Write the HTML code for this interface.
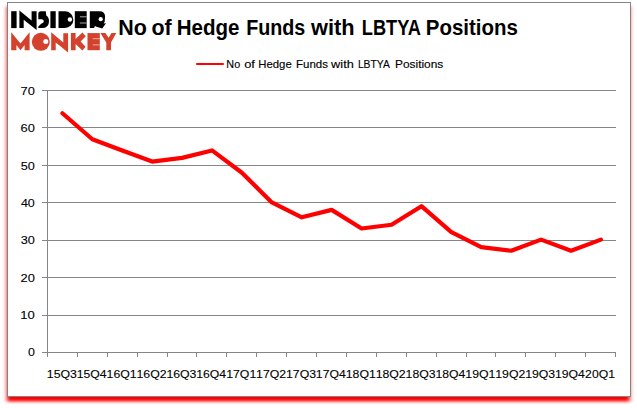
<!DOCTYPE html>
<html><head><meta charset="utf-8"><style>
html,body{margin:0;padding:0;background:#fff;width:637px;height:408px;overflow:hidden}
svg{position:absolute;left:0;top:0}
text{font-family:"Liberation Sans",sans-serif;fill:#000}
.ax{font-size:11.6px;stroke:#000;stroke-width:0.1px}
.lg{font-size:11.6px;stroke:#000;stroke-width:0.15px}
.tt{font-size:21.8px;font-weight:bold}
</style></head><body>
<svg width="637" height="408" viewBox="0 0 637 408">
<defs><filter id="sh" x="-5%" y="-5%" width="110%" height="110%"><feGaussianBlur stdDeviation="2 1.5"/></filter></defs>
<rect x="7" y="6.5" width="622.8" height="395" fill="#ff0000" filter="url(#sh)"/>
<rect x="7.5" y="2.5" width="623" height="394" fill="#fff" stroke="#848484" stroke-width="1"/>
<line x1="42" y1="90.5" x2="616" y2="90.5" stroke="#868686" stroke-width="1"/>
<line x1="42" y1="127.5" x2="616" y2="127.5" stroke="#868686" stroke-width="1"/>
<line x1="42" y1="165.5" x2="616" y2="165.5" stroke="#868686" stroke-width="1"/>
<line x1="42" y1="202.5" x2="616" y2="202.5" stroke="#868686" stroke-width="1"/>
<line x1="42" y1="240.5" x2="616" y2="240.5" stroke="#868686" stroke-width="1"/>
<line x1="42" y1="277.5" x2="616" y2="277.5" stroke="#868686" stroke-width="1"/>
<line x1="42" y1="315.5" x2="616" y2="315.5" stroke="#868686" stroke-width="1"/>
<line x1="42" y1="352.5" x2="615.5" y2="352.5" stroke="#868686" stroke-width="1"/>
<line x1="47.5" y1="90" x2="47.5" y2="357" stroke="#868686" stroke-width="1"/>
<line x1="47.5" y1="352" x2="47.5" y2="357" stroke="#868686" stroke-width="1"/>
<line x1="77.5" y1="352" x2="77.5" y2="357" stroke="#868686" stroke-width="1"/>
<line x1="107.5" y1="352" x2="107.5" y2="357" stroke="#868686" stroke-width="1"/>
<line x1="137.5" y1="352" x2="137.5" y2="357" stroke="#868686" stroke-width="1"/>
<line x1="167.5" y1="352" x2="167.5" y2="357" stroke="#868686" stroke-width="1"/>
<line x1="196.5" y1="352" x2="196.5" y2="357" stroke="#868686" stroke-width="1"/>
<line x1="226.5" y1="352" x2="226.5" y2="357" stroke="#868686" stroke-width="1"/>
<line x1="256.5" y1="352" x2="256.5" y2="357" stroke="#868686" stroke-width="1"/>
<line x1="286.5" y1="352" x2="286.5" y2="357" stroke="#868686" stroke-width="1"/>
<line x1="316.5" y1="352" x2="316.5" y2="357" stroke="#868686" stroke-width="1"/>
<line x1="346.5" y1="352" x2="346.5" y2="357" stroke="#868686" stroke-width="1"/>
<line x1="376.5" y1="352" x2="376.5" y2="357" stroke="#868686" stroke-width="1"/>
<line x1="406.5" y1="352" x2="406.5" y2="357" stroke="#868686" stroke-width="1"/>
<line x1="436.5" y1="352" x2="436.5" y2="357" stroke="#868686" stroke-width="1"/>
<line x1="466.5" y1="352" x2="466.5" y2="357" stroke="#868686" stroke-width="1"/>
<line x1="495.5" y1="352" x2="495.5" y2="357" stroke="#868686" stroke-width="1"/>
<line x1="525.5" y1="352" x2="525.5" y2="357" stroke="#868686" stroke-width="1"/>
<line x1="555.5" y1="352" x2="555.5" y2="357" stroke="#868686" stroke-width="1"/>
<line x1="585.5" y1="352" x2="585.5" y2="357" stroke="#868686" stroke-width="1"/>
<line x1="615.5" y1="352" x2="615.5" y2="357" stroke="#868686" stroke-width="1"/>
<text x="20.50" y="95" class="ax" textLength="14.32" lengthAdjust="spacingAndGlyphs">70</text>
<text x="20.50" y="132" class="ax" textLength="14.32" lengthAdjust="spacingAndGlyphs">60</text>
<text x="20.70" y="170" class="ax" textLength="14.11" lengthAdjust="spacingAndGlyphs">50</text>
<text x="20.90" y="207" class="ax" textLength="13.91" lengthAdjust="spacingAndGlyphs">40</text>
<text x="20.70" y="244" class="ax" textLength="14.11" lengthAdjust="spacingAndGlyphs">30</text>
<text x="20.50" y="282" class="ax" textLength="14.32" lengthAdjust="spacingAndGlyphs">20</text>
<text x="20.28" y="319" class="ax" textLength="14.54" lengthAdjust="spacingAndGlyphs">10</text>
<text x="27.91" y="356" class="ax" textLength="6.90" lengthAdjust="spacingAndGlyphs">0</text>
<text x="46.83" y="377.8" class="ax" textLength="30.06" lengthAdjust="spacingAndGlyphs">15Q3</text>
<text x="76.73" y="377.8" class="ax" textLength="29.86" lengthAdjust="spacingAndGlyphs">15Q4</text>
<text x="106.62" y="377.8" class="ax" textLength="30.06" lengthAdjust="spacingAndGlyphs">16Q1</text>
<text x="136.52" y="377.8" class="ax" textLength="30.06" lengthAdjust="spacingAndGlyphs">16Q2</text>
<text x="166.41" y="377.8" class="ax" textLength="30.06" lengthAdjust="spacingAndGlyphs">16Q3</text>
<text x="196.31" y="377.8" class="ax" textLength="29.86" lengthAdjust="spacingAndGlyphs">16Q4</text>
<text x="226.20" y="377.8" class="ax" textLength="30.06" lengthAdjust="spacingAndGlyphs">17Q1</text>
<text x="256.10" y="377.8" class="ax" textLength="30.06" lengthAdjust="spacingAndGlyphs">17Q2</text>
<text x="285.99" y="377.8" class="ax" textLength="30.06" lengthAdjust="spacingAndGlyphs">17Q3</text>
<text x="315.89" y="377.8" class="ax" textLength="29.86" lengthAdjust="spacingAndGlyphs">17Q4</text>
<text x="345.78" y="377.8" class="ax" textLength="30.06" lengthAdjust="spacingAndGlyphs">18Q1</text>
<text x="375.67" y="377.8" class="ax" textLength="30.06" lengthAdjust="spacingAndGlyphs">18Q2</text>
<text x="405.57" y="377.8" class="ax" textLength="30.06" lengthAdjust="spacingAndGlyphs">18Q3</text>
<text x="435.47" y="377.8" class="ax" textLength="29.86" lengthAdjust="spacingAndGlyphs">18Q4</text>
<text x="465.36" y="377.8" class="ax" textLength="30.06" lengthAdjust="spacingAndGlyphs">19Q1</text>
<text x="495.25" y="377.8" class="ax" textLength="30.06" lengthAdjust="spacingAndGlyphs">19Q2</text>
<text x="525.15" y="377.8" class="ax" textLength="30.06" lengthAdjust="spacingAndGlyphs">19Q3</text>
<text x="555.05" y="377.8" class="ax" textLength="29.86" lengthAdjust="spacingAndGlyphs">19Q4</text>
<text x="585.13" y="377.8" class="ax" textLength="29.86" lengthAdjust="spacingAndGlyphs">20Q1</text>
<polyline points="62.40,113.28 92.32,139.29 122.24,150.44 152.16,161.58 182.08,157.87 212.00,150.44 241.92,172.73 271.84,202.46 301.76,217.32 331.68,209.89 361.60,228.47 391.52,224.76 421.44,206.18 451.36,232.19 481.28,247.05 511.20,250.77 541.12,239.62 571.04,250.77 600.96,239.62" fill="none" stroke="#ff0000" stroke-width="4.2" stroke-linejoin="round" stroke-linecap="round"/>
<line x1="197" y1="64" x2="223" y2="64" stroke="#ff0000" stroke-width="2" stroke-linecap="round"/>
<text x="226.36" y="68" class="lg" textLength="13.78" lengthAdjust="spacingAndGlyphs">No</text>
<text x="244.20" y="68" class="lg" textLength="10.76" lengthAdjust="spacingAndGlyphs">of</text>
<text x="258.31" y="68" class="lg" textLength="33.45" lengthAdjust="spacingAndGlyphs">Hedge</text>
<text x="296.10" y="68" class="lg" textLength="31.85" lengthAdjust="spacingAndGlyphs">Funds</text>
<text x="331.10" y="68" class="lg" textLength="22.72" lengthAdjust="spacingAndGlyphs">with</text>
<text x="357.89" y="68" class="lg" textLength="31.96" lengthAdjust="spacingAndGlyphs">LBTYA</text>
<text x="395.07" y="68" class="lg" textLength="48.20" lengthAdjust="spacingAndGlyphs">Positions</text>
<text x="118.16" y="35" class="tt" textLength="28.65" lengthAdjust="spacingAndGlyphs">No</text>
<text x="151.53" y="35" class="tt" textLength="20.24" lengthAdjust="spacingAndGlyphs">of</text>
<text x="176.82" y="35" class="tt" textLength="62.69" lengthAdjust="spacingAndGlyphs">Hedge</text>
<text x="246.17" y="35" class="tt" textLength="59.13" lengthAdjust="spacingAndGlyphs">Funds</text>
<text x="310.94" y="35" class="tt" textLength="43.61" lengthAdjust="spacingAndGlyphs">with</text>
<text x="361.86" y="35" class="tt" textLength="58.98" lengthAdjust="spacingAndGlyphs">LBTYA</text>
<text x="425.82" y="35" class="tt" textLength="92.01" lengthAdjust="spacingAndGlyphs">Positions</text>
<g fill="#000">
<rect x="11.2" y="11.2" width="5.4" height="16.9"/>
<path d="M19.4,10.4 L31.6,20.4 L31.6,11.2 L36.6,11.2 L36.6,30 L23.7,19.8 L23.7,28.1 L19.4,28.1 Z"/>
<path d="M38.3,14 Q38.3,11.2 41,11.2 L45.8,11.2 L46.3,15.5 Q49,17 49,21.3 Q49,28.1 42,28.1 L38.3,28.1 L38.3,26.5 L41.5,23.6 Q43.8,23 43.8,21.2 Q43.8,19.3 41.5,19.3 L38.3,19.3 Z"/>
<rect x="50.4" y="11.2" width="5.3" height="16.9"/>
<path d="M58.5,11.2 L64.9,11.2 A8.45,8.45 0 0 1 64.9,28.1 L58.5,28.1 Z"/>
<rect x="74.8" y="11.2" width="11.9" height="16.9"/>
<path d="M89.8,11.2 L99.6,11.2 Q105.1,11.2 105.1,16.8 L104.6,22.1 L103.7,23.4 L106,23.3 L102.2,28.6 L96.4,26.8 L95,26 L94,28.1 L89.8,28.1 Z"/>
</g>
<g fill="#fff">
<circle cx="69.9" cy="19.5" r="2.2"/>
<circle cx="100.7" cy="19.2" r="2.1"/>
</g>
<g fill="#a8a8a8">
<rect x="79.9" y="16.3" width="6.8" height="1"/>
<rect x="79.9" y="22.5" width="6.8" height="1"/>
</g>
<g fill="#d4412c">
<path d="M11.2,32.2 L20.5,43.4 L29.6,32.2 L29.6,50.2 L24.6,50.2 L24.6,45 L20.5,50.2 L16.4,45 L16.4,50.2 L11.2,50.2 Z"/>
<circle cx="40.8" cy="41.8" r="9"/>
<path d="M51.2,32.3 L63.3,42.6 L63.3,33.3 L68.1,33.3 L68.1,52.6 L55.7,42.4 L55.7,50.3 L51.2,50.3 Z"/>
<path d="M70.9,33.1 L75.6,33.1 L75.6,39 L82.4,32.6 L85.8,36.2 L80.6,41.6 L85.6,46.8 L82.4,50.4 L75.6,44 L75.6,50.2 L70.9,50.2 Z"/>
<rect x="87.5" y="33.1" width="12.3" height="17.1"/>
<path d="M100.4,33.1 L105.4,33.1 L108.6,37.8 L111.5,33.1 L116.3,33.1 L111,42.5 L111,50.2 L106.3,50.2 L106.3,42.5 Z"/>
</g>
<circle cx="45.8" cy="41.6" r="2.5" fill="#fff"/>
<g fill="#eab0a6">
<rect x="92.8" y="38.2" width="7" height="1"/>
<rect x="92.8" y="44.4" width="7" height="1"/>
</g>

</svg>
</body></html>
